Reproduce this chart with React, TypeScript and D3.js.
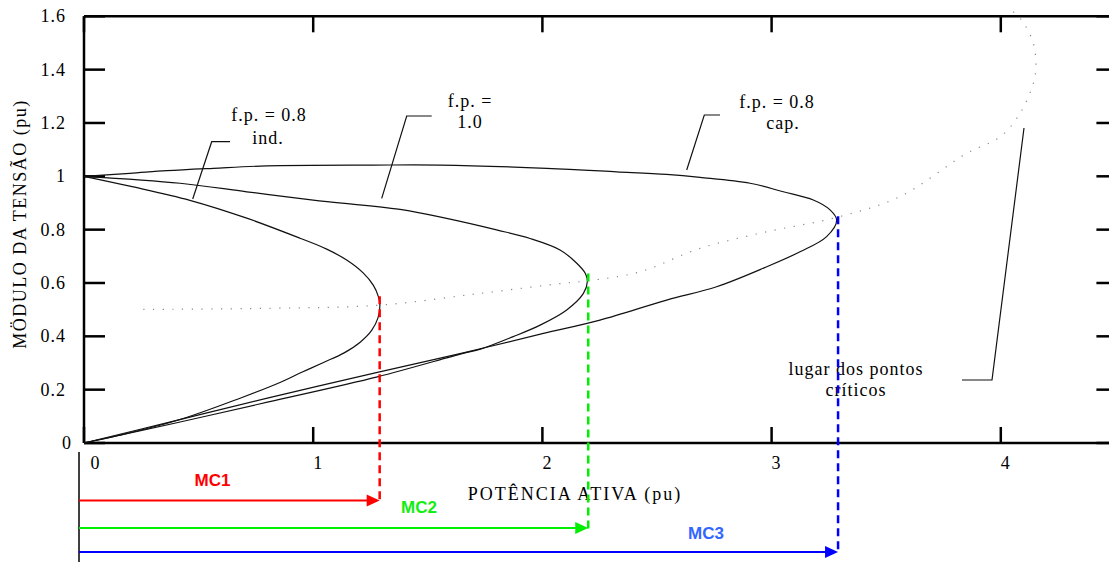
import React from "react";
import * as d3 from "d3";

// ---- data (P in pu, V in pu) ----
const xTicks = [0, 1, 2, 3, 4];
const yTicks = [0, 0.2, 0.4, 0.6, 0.8, 1, 1.2, 1.4, 1.6];
const yTickLabels = ["0", "0.2", "0.4", "0.6", "0.8", "1", "1.2", "1.4", "1.6"];

const curveInd: [number, number][] = [
  [0, 1.0], [0.2, 0.963], [0.462, 0.91], [0.71, 0.843], [0.942, 0.768], [1.059, 0.727],
  [1.146, 0.686], [1.219, 0.637], [1.262, 0.592], [1.284, 0.55], [1.291, 0.517], [1.283, 0.47],
  [1.255, 0.422], [1.205, 0.378], [1.135, 0.338], [1.045, 0.302], [0.95, 0.265], [0.855, 0.227],
  [0.681, 0.168], [0.419, 0.088], [0.15, 0.028], [0, 0],
];
const curveUnity: [number, number][] = [
  [0, 1.0], [0.419, 0.974], [0.71, 0.942], [1.0, 0.911], [1.379, 0.876], [1.582, 0.842],
  [1.8, 0.799], [1.946, 0.767], [2.077, 0.724], [2.15, 0.674], [2.188, 0.635], [2.196, 0.605],
  [2.179, 0.561], [2.106, 0.499], [1.99, 0.442], [1.873, 0.399], [1.73, 0.352],
  [1.65, 0.335], [1.28, 0.248], [0.8, 0.153], [0.4, 0.075], [0, 0],
];
const curveCap: [number, number][] = [
  [0, 1.0], [0.2, 1.011], [0.361, 1.021], [0.564, 1.03], [0.797, 1.039], [1.262, 1.042],
  [1.553, 1.042], [2.019, 1.03], [2.324, 1.017], [2.542, 1.007], [2.688, 0.996],
  [2.906, 0.974], [3.051, 0.942], [3.182, 0.911], [3.255, 0.874], [3.284, 0.836],
  [3.24, 0.774], [3.124, 0.717], [2.979, 0.661], [2.76, 0.586], [2.542, 0.536],
  [2.251, 0.461], [2.0, 0.41], [1.65, 0.337], [1.28, 0.265], [0.8, 0.168], [0.4, 0.084], [0, 0],
];
const criticalLocus: [number, number][] = [
  [0.259, 0.501], [0.8, 0.505], [1.291, 0.517], [1.728, 0.561], [2.09, 0.599],
  [2.196, 0.608], [2.426, 0.642], [2.688, 0.73], [2.979, 0.792], [3.284, 0.846],
  [3.56, 0.924], [3.851, 1.086], [3.997, 1.148], [4.084, 1.236], [4.142, 1.349],
  [4.153, 1.411], [4.142, 1.499], [4.091, 1.586], [4.05, 1.62],
];

const mcNames = ["MC1", "MC2", "MC3"];
const mcP = [1.29, 2.2, 3.29];
const mcV = [0.55, 0.636, 0.85];

// ---- layout ----
const W = 1109, H = 562;
const X0 = 84, UNIT = 229.2;
const x = d3.scaleLinear().domain([0, 4.5]).range([X0, X0 + 4.5 * UNIT]);
const y = d3.scaleLinear().domain([0, 1.6]).range([443, 16.3]);
const line = d3.line<[number, number]>().x(d => x(d[0])).y(d => y(d[1])).curve(d3.curveCatmullRom.alpha(0.5));

const mcColors = ["#ff0000", "#00ee00", "#0000ff"];
const mcTextColors = ["#ff0000", "#11ee11", "#3366ff"];
const arrowY = [500.5, 528, 552];
const labelPos = [[212.5, 486], [419, 513], [706, 539]];
const serif = "'Liberation Serif', 'Times New Roman', serif";

export default function App() {
  const right = x(4.5);
  return (
    <div style={{ position: "absolute", left: 0, top: 0 }}>
      <svg width={W} height={H} style={{ display: "block", background: "#fff" }}>
        {/* frame */}
        <line x1={X0} x2={right} y1={y(1.6)} y2={y(1.6)} stroke="#000" strokeWidth={2.5} />
        <line x1={X0} x2={right} y1={y(0)} y2={y(0)} stroke="#000" strokeWidth={2.5} />
        <line x1={X0} x2={X0} y1={y(1.6)} y2={y(0)} stroke="#000" strokeWidth={2.5} />
        <line x1={right} x2={right} y1={y(1.6)} y2={y(0)} stroke="#000" strokeWidth={2.5} />
        {/* y ticks */}
        {yTicks.map((t, i) => (
          <g key={"y" + i}>
            <line x1={X0} x2={X0 + 21} y1={y(t)} y2={y(t)} stroke="#000" strokeWidth={2.5} />
            <line x1={right - 19} x2={right} y1={y(t)} y2={y(t)} stroke="#000" strokeWidth={2.5} />
            <text x={t === 0 ? 72 : 66} y={y(t) + 6} textAnchor="end" fontFamily={serif} fontSize={18} letterSpacing={1}>{yTickLabels[i]}</text>
          </g>
        ))}
        {/* x ticks */}
        {xTicks.map((t, i) => (
          <g key={"x" + i}>
            <line x1={x(t)} x2={x(t)} y1={y(0)} y2={y(0) - 16} stroke="#000" strokeWidth={2.5} />
            <line x1={x(t)} x2={x(t)} y1={y(1.6)} y2={y(1.6) + 16} stroke="#000" strokeWidth={2.5} />
            <text x={x(t) + (t === 0 ? 11 : 4.5)} y={469} textAnchor="middle" fontFamily={serif} fontSize={18}>{String(t)}</text>
          </g>
        ))}
        {/* axis titles */}
        <text x={575} y={500} textAnchor="middle" fontFamily={serif} fontSize={18} letterSpacing={2}>POTÊNCIA ATIVA (pu)</text>
        <text transform="translate(26,224) rotate(-90)" textAnchor="middle" fontFamily={serif} fontSize={18} letterSpacing={1.5}>MÖDULO DA TENSÃO (pu)</text>

        {/* critical locus */}
        <path d={line(criticalLocus) || ""} fill="none" stroke="#888" strokeWidth={1.2} strokeDasharray="1.2 8.5" />

        {/* PV curves */}
        {[curveInd, curveUnity, curveCap].map((c, i) => (
          <path key={"c" + i} d={line(c) || ""} fill="none" stroke="#111" strokeWidth={1.2} />
        ))}

        {/* annotations */}
        <g stroke="#111" strokeWidth={1.2} fill="none">
          <polyline points="230,141.7 211.7,141.7 192.7,199" />
          <polyline points="431.7,116 406.7,116 381.7,198.3" />
          <polyline points="720,115 704.3,115 686.7,170" />
          <polyline points="962,380 992,380 1024,128" />
        </g>
        <g fontFamily={serif} fontSize={18} textAnchor="middle" letterSpacing={1}>
          <text x={269} y={121}>f.p. = 0.8</text>
          <text x={268} y={144}>ind.</text>
          <text x={470} y={107}>f.p. =</text>
          <text x={470} y={128}>1.0</text>
          <text x={777} y={108}>f.p. = 0.8</text>
          <text x={783} y={129}>cap.</text>
          <text x={856} y={375}>lugar dos pontos</text>
          <text x={856} y={396}>críticos</text>
        </g>

        {/* margin arrows */}
        <line x1={79} x2={79} y1={452} y2={H} stroke="#000" strokeWidth={1.5} />
        {mcNames.map((n, i) => {
          const px = x(mcP[i]);
          return (
            <g key={n}>
              <line x1={px} x2={px} y1={y(mcV[i])} y2={arrowY[i] + 2} stroke={mcColors[i]} strokeWidth={2.5} strokeDasharray="8 5" />
              <line x1={79} x2={px - 10} y1={arrowY[i]} y2={arrowY[i]} stroke={mcColors[i]} strokeWidth={2} />
              <path d={`M${px},${arrowY[i]} L${px - 13},${arrowY[i] - 6} L${px - 13},${arrowY[i] + 6} Z`} fill={mcColors[i]} />
              <text x={labelPos[i][0]} y={labelPos[i][1]} textAnchor="middle" fontFamily="'Liberation Sans', Arial, sans-serif" fontWeight="bold" fontSize={17} fill={mcTextColors[i]}>{n}</text>
            </g>
          );
        })}
      </svg>
    </div>
  );
}
